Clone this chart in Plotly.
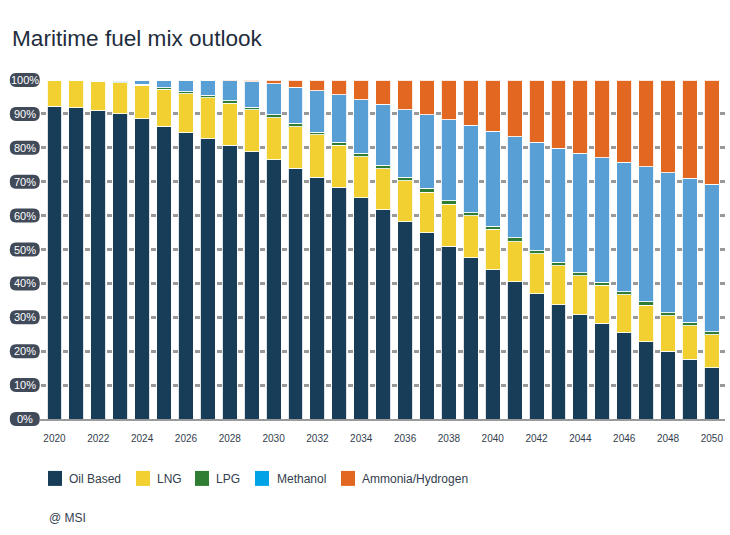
import plotly.graph_objects as go

years = list(range(2020, 2051))

oil = [92.3, 91.8, 91.0, 90.0, 88.5, 86.3, 84.5, 82.7, 80.8, 78.8, 76.5, 74.0, 71.3, 68.4, 65.2, 61.8,
       58.2, 54.9, 51.0, 47.6, 44.0, 40.5, 37.0, 33.7, 30.7, 28.2, 25.5, 22.8, 20.0, 17.6, 15.1]
lng = [7.7, 8.2, 8.7, 9.2, 9.9, 10.9, 11.5, 12.0, 12.4, 12.4, 12.4, 12.2, 12.5, 12.3, 12.2, 12.0,
       12.1, 12.0, 12.3, 12.3, 12.0, 11.8, 11.7, 11.5, 11.5, 11.2, 11.1, 10.8, 10.4, 9.9, 9.8]
lpg = [0, 0, 0, 0.3, 0.4, 0.5, 0.5, 0.8, 0.7, 0.8, 0.9, 1.0, 0.8, 1.0, 1.0, 1.0,
       1.0, 1.1, 1.1, 1.0, 0.9, 1.1, 1.0, 1.0, 1.0, 0.9, 0.9, 1.0, 1.0, 1.0, 0.8]
methanol = [0, 0, 0.3, 0.5, 1.2, 2.3, 3.5, 4.5, 5.9, 7.5, 9.1, 10.7, 12.3, 14.0, 15.8, 18.0,
            19.9, 21.7, 23.9, 25.7, 28.0, 29.9, 31.9, 33.7, 35.2, 36.7, 38.3, 39.8, 41.3, 42.5, 43.6]
ammonia = [0, 0, 0, 0, 0, 0, 0, 0, 0.2, 0.5, 1.1, 2.1, 3.1, 4.3, 5.8, 7.2,
           8.8, 10.3, 11.7, 13.4, 15.1, 16.7, 18.4, 20.1, 21.6, 23.0, 24.2, 25.6, 27.3, 29.0, 30.7]

names = ["Oil Based", "LNG", "LPG", "Methanol", "Ammonia/Hydrogen"]
series = [oil, lng, lpg, methanol, ammonia]
bar_colors = ["#183d59", "#f2d031", "#2e7d32", "#579fd5", "#e26821"]
key_colors = ["#183d59", "#f2d031", "#2e7d32", "#00a3e6", "#e26821"]
pct_ticks = list(range(0, 101, 10))

W, H = 730, 535
LEFT, RIGHT, TOP, BOTTOM = 40, 725, 79.5, 419


# page pixels to paper coordinates, paper is the plot area
def px(x):
    return (x - LEFT) / (RIGHT - LEFT)


def py(y):
    return (BOTTOM - y) / (BOTTOM - TOP)


fig = go.Figure()
for name, vals, col in zip(names, series, bar_colors):
    fig.add_trace(go.Bar(x=years, y=vals, name=name, width=0.68, marker_color=col,
                         marker_line=dict(color="rgba(255,255,255,0.85)", width=1)))

# y tick labels are centred in dark pills, so they are drawn here and not by the axis
pill = "M -9 -7 L 9 -7 Q 15 -7 15 0 Q 15 7 9 7 L -9 7 Q -15 7 -15 0 Q -15 -7 -9 -7 Z"
for t in pct_ticks:
    fig.add_shape(type="path", path=pill, xref="paper", yref="paper", xsizemode="pixel", ysizemode="pixel",
                  xanchor=px(24.8), yanchor=t / 100, fillcolor="#414a59", line_width=0, layer="below")
    fig.add_annotation(text=f"{t}%", xref="paper", yref="y", x=px(24.8), y=t, xanchor="center",
                       yanchor="middle", showarrow=False, borderpad=0, font=dict(size=11, color="white"))

# legend row drawn by hand, the swatches sit close to the text
key_x = [48, 136, 195, 255, 341]
text_x = [67.5, 156, 214.5, 275.5, 360.5]
for name, col, kx, tx in zip(names, key_colors, key_x, text_x):
    fig.add_shape(type="rect", xref="paper", yref="paper", x0=px(kx), x1=px(kx + 14),
                  y0=py(486), y1=py(471), fillcolor=col, line_width=0)
    fig.add_annotation(text=name, xref="paper", yref="paper", x=px(tx), y=py(479.5), xanchor="left",
                       yanchor="middle", showarrow=False, borderpad=0, font=dict(size=12, color="#333e4e"))

fig.add_annotation(text="@ MSI", xref="paper", yref="paper", x=px(48), y=py(518), xanchor="left",
                   yanchor="middle", showarrow=False, borderpad=0, font=dict(size=12, color="#333e4e"))

fig.update_layout(
    width=W, height=H,
    barmode="stack",
    showlegend=False,
    plot_bgcolor="white",
    paper_bgcolor="white",
    font=dict(family="Liberation Sans, Arial, sans-serif"),
    title=dict(text="Maritime fuel mix outlook", x=12 / W, xanchor="left", y=1 - 38 / H, yanchor="middle",
               font=dict(size=22.6, color="#1f2d3d")),
    margin=dict(l=LEFT, r=W - RIGHT, t=TOP, b=H - BOTTOM, pad=0),
)
fig.update_xaxes(range=[2019.34, 2050.6], tick0=2020, dtick=2, showgrid=False, zeroline=False,
                 showline=True, linecolor="#9a9a9a", linewidth=2, ticks="", ticklabelstandoff=9,
                 tickfont=dict(size=10, color="#333e4e"))
fig.update_yaxes(range=[0, 100], tickvals=pct_ticks, showticklabels=False,
                 showgrid=True, gridcolor="#999999", gridwidth=2.5, griddash="0px,1.4px,5px,15.5px",
                 zeroline=False, ticks="")

fig.write_html("out.html", config=dict(displayModeBar=False),
               post_script="document.body.style.margin='0';")
